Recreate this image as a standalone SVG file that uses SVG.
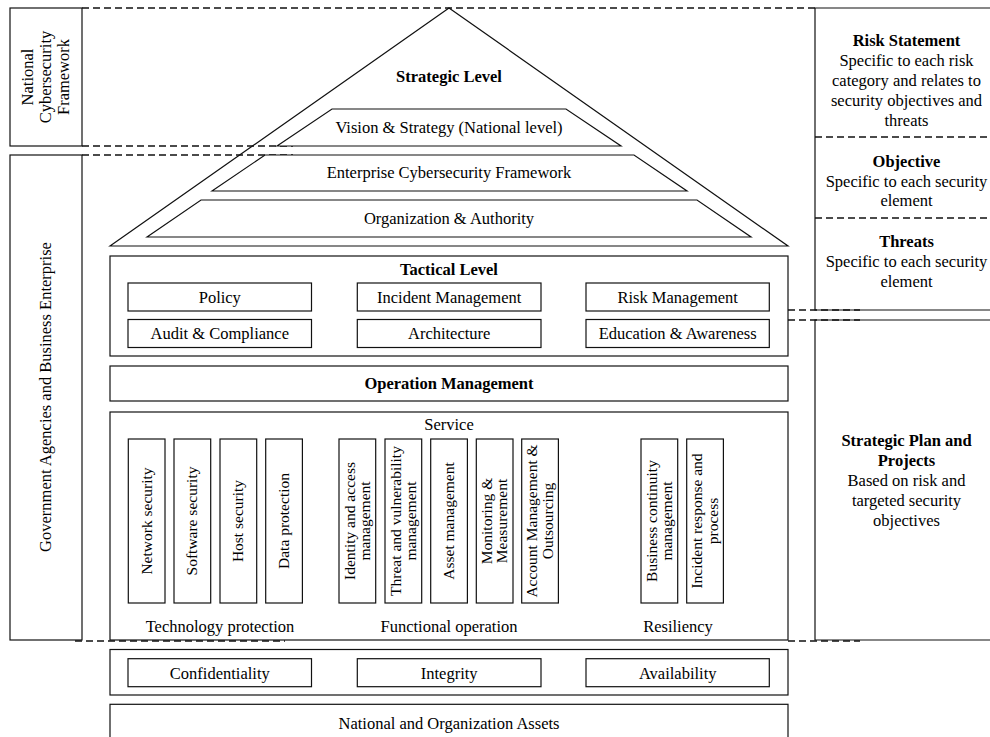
<svg xmlns="http://www.w3.org/2000/svg" width="990" height="737" viewBox="0 0 990 737">
<style>
text{font-family:"Liberation Serif","Times New Roman",serif;font-size:16.5px;fill:#000;text-anchor:middle}
.b{font-weight:bold}
.v{font-size:15.5px}
.box{fill:#fff;stroke:#111;stroke-width:1.2}
.ol{fill:none;stroke:#111;stroke-width:1.2}
.d{fill:none;stroke:#111;stroke-width:1.5;stroke-dasharray:7 4}
</style>
<rect width="990" height="737" fill="#fff"/>
<g id="connectors">
<line class="d" x1="82" y1="8" x2="815" y2="8"/>
<line class="d" x1="82" y1="146" x2="293" y2="146"/>
<line class="d" x1="82" y1="155" x2="293" y2="155"/>
<line class="d" x1="788" y1="310" x2="860" y2="310"/>
<line class="d" x1="788" y1="320" x2="860" y2="320"/>
<line class="d" x1="75" y1="641" x2="285" y2="641"/>
<line class="d" x1="788" y1="641" x2="860" y2="641"/>
<line class="d" x1="815" y1="137" x2="990" y2="137"/>
<line class="d" x1="815" y1="218" x2="990" y2="218"/>
</g>
<g id="national-framework">
<rect class="box" x="10" y="8" width="72" height="138"/>
<text transform="translate(33,77) rotate(-90)">National</text>
<text transform="translate(51,77) rotate(-90)">Cybersecurity</text>
<text transform="translate(69,77) rotate(-90)">Framework</text>
</g>
<g id="government-enterprise">
<rect class="box" x="10" y="155" width="72" height="485"/>
<text transform="translate(51,397) rotate(-90)">Government Agencies and Business Enterprise</text>
</g>
<g id="strategic">
<polygon class="ol" points="110,246 449,8 788,246 110,246"/>
<text class="b" x="449" y="82">Strategic Level</text>
</g>
<g id="vision">
<polygon class="box" points="277,146 332,109 566,109 621,146"/>
<text x="449" y="133">Vision &amp; Strategy (National level)</text>
</g>
<g id="enterprise-framework">
<polygon class="box" points="212,191 265,155 634,155 687,191"/>
<text x="449" y="178">Enterprise Cybersecurity Framework</text>
</g>
<g id="organization">
<polygon class="box" points="147,237 201,200 697,200 751,237"/>
<text x="449" y="224">Organization &amp; Authority</text>
</g>
<g id="tactical">
<rect class="box" x="110" y="256" width="678" height="100"/>
<text class="b" x="449" y="275">Tactical Level</text>
<rect class="box" x="128" y="283" width="183.5" height="28"/>
<text x="219.8" y="302.5">Policy</text>
<rect class="box" x="357.3" y="283" width="183.7" height="28"/>
<text x="449.2" y="302.5">Incident Management</text>
<rect class="box" x="586" y="283" width="183.3" height="28"/>
<text x="677.7" y="302.5">Risk Management</text>
<rect class="box" x="128" y="319.5" width="183.5" height="28"/>
<text x="219.8" y="339">Audit &amp; Compliance</text>
<rect class="box" x="357.3" y="319.5" width="183.7" height="28"/>
<text x="449.2" y="339">Architecture</text>
<rect class="box" x="586" y="319.5" width="183.3" height="28"/>
<text x="677.7" y="339">Education &amp; Awareness</text>
</g>
<g id="operation">
<rect class="box" x="110" y="366" width="678" height="35"/>
<text class="b" x="449" y="389">Operation Management</text>
</g>
<g id="service">
<rect class="box" x="110" y="412" width="678" height="228"/>
<text x="449" y="430">Service</text>
<rect class="box" x="128.3" y="439" width="36.7" height="164"/>
<text class="v" transform="translate(151.6,521) rotate(-90)">Network security</text>
<rect class="box" x="174" y="439" width="36.7" height="164"/>
<text class="v" transform="translate(197.3,521) rotate(-90)">Software security</text>
<rect class="box" x="220" y="439" width="36.7" height="164"/>
<text class="v" transform="translate(243.3,521) rotate(-90)">Host security</text>
<rect class="box" x="265.7" y="439" width="36.7" height="164"/>
<text class="v" transform="translate(289,521) rotate(-90)">Data protection</text>
<text x="220" y="632">Technology protection</text>
<rect class="box" x="339" y="439" width="36.7" height="164"/>
<text class="v" transform="translate(354.5,521) rotate(-90)">Identity and access</text>
<text class="v" transform="translate(370,521) rotate(-90)">management</text>
<rect class="box" x="385" y="439" width="36.7" height="164"/>
<text class="v" transform="translate(400.5,521) rotate(-90)">Threat and vulnerability</text>
<text class="v" transform="translate(416,521) rotate(-90)">management</text>
<rect class="box" x="430.7" y="439" width="36.7" height="164"/>
<text class="v" transform="translate(454,521) rotate(-90)">Asset management</text>
<rect class="box" x="476.3" y="439" width="36.7" height="164"/>
<text class="v" transform="translate(491.8,521) rotate(-90)">Monitoring &amp;</text>
<text class="v" transform="translate(507.3,521) rotate(-90)">Measurement</text>
<rect class="box" x="521.7" y="439" width="36.7" height="164"/>
<text class="v" transform="translate(537.2,521) rotate(-90)">Account Management &amp;</text>
<text class="v" transform="translate(552.7,521) rotate(-90)">Outsourcing</text>
<text x="449" y="632">Functional operation</text>
<rect class="box" x="641" y="439" width="36.7" height="164"/>
<text class="v" transform="translate(656.5,521) rotate(-90)">Business continuity</text>
<text class="v" transform="translate(672,521) rotate(-90)">management</text>
<rect class="box" x="686.7" y="439" width="36.7" height="164"/>
<text class="v" transform="translate(702.2,521) rotate(-90)">Incident response and</text>
<text class="v" transform="translate(717.7,521) rotate(-90)">process</text>
<text x="678" y="632">Resiliency</text>
</g>
<g id="cia">
<rect class="box" x="110" y="649.5" width="678" height="45.5"/>
<rect class="box" x="128" y="658.7" width="183.5" height="28"/>
<text x="219.8" y="678.5">Confidentiality</text>
<rect class="box" x="357.3" y="658.7" width="183.7" height="28"/>
<text x="449.2" y="678.5">Integrity</text>
<rect class="box" x="586" y="658.7" width="183.3" height="28"/>
<text x="677.7" y="678.5">Availability</text>
</g>
<g id="assets">
<rect class="box" x="110" y="704.3" width="678" height="40"/>
<text x="449" y="728.5">National and Organization Assets</text>
</g>
<g id="risk-panel">
<path class="ol" d="M995,8 H815 V310 H995"/>
<text class="b" x="906.5" y="45.5">Risk Statement</text>
<text x="906.5" y="65.5">Specific to each risk</text>
<text x="906.5" y="85.5">category and relates to</text>
<text x="906.5" y="105.5">security objectives and</text>
<text x="906.5" y="125.5">threats</text>
<text class="b" x="906.5" y="167">Objective</text>
<text x="906.5" y="187">Specific to each security</text>
<text x="906.5" y="205.5">element</text>
<text class="b" x="906.5" y="247">Threats</text>
<text x="906.5" y="267">Specific to each security</text>
<text x="906.5" y="287">element</text>
</g>
<g id="plan-panel">
<path class="ol" d="M995,320 H815 V640 H995"/>
<text class="b" x="906.5" y="446">Strategic Plan and</text>
<text class="b" x="906.5" y="466">Projects</text>
<text x="906.5" y="486">Based on risk and</text>
<text x="906.5" y="506">targeted security</text>
<text x="906.5" y="526">objectives</text>
</g>
</svg>
